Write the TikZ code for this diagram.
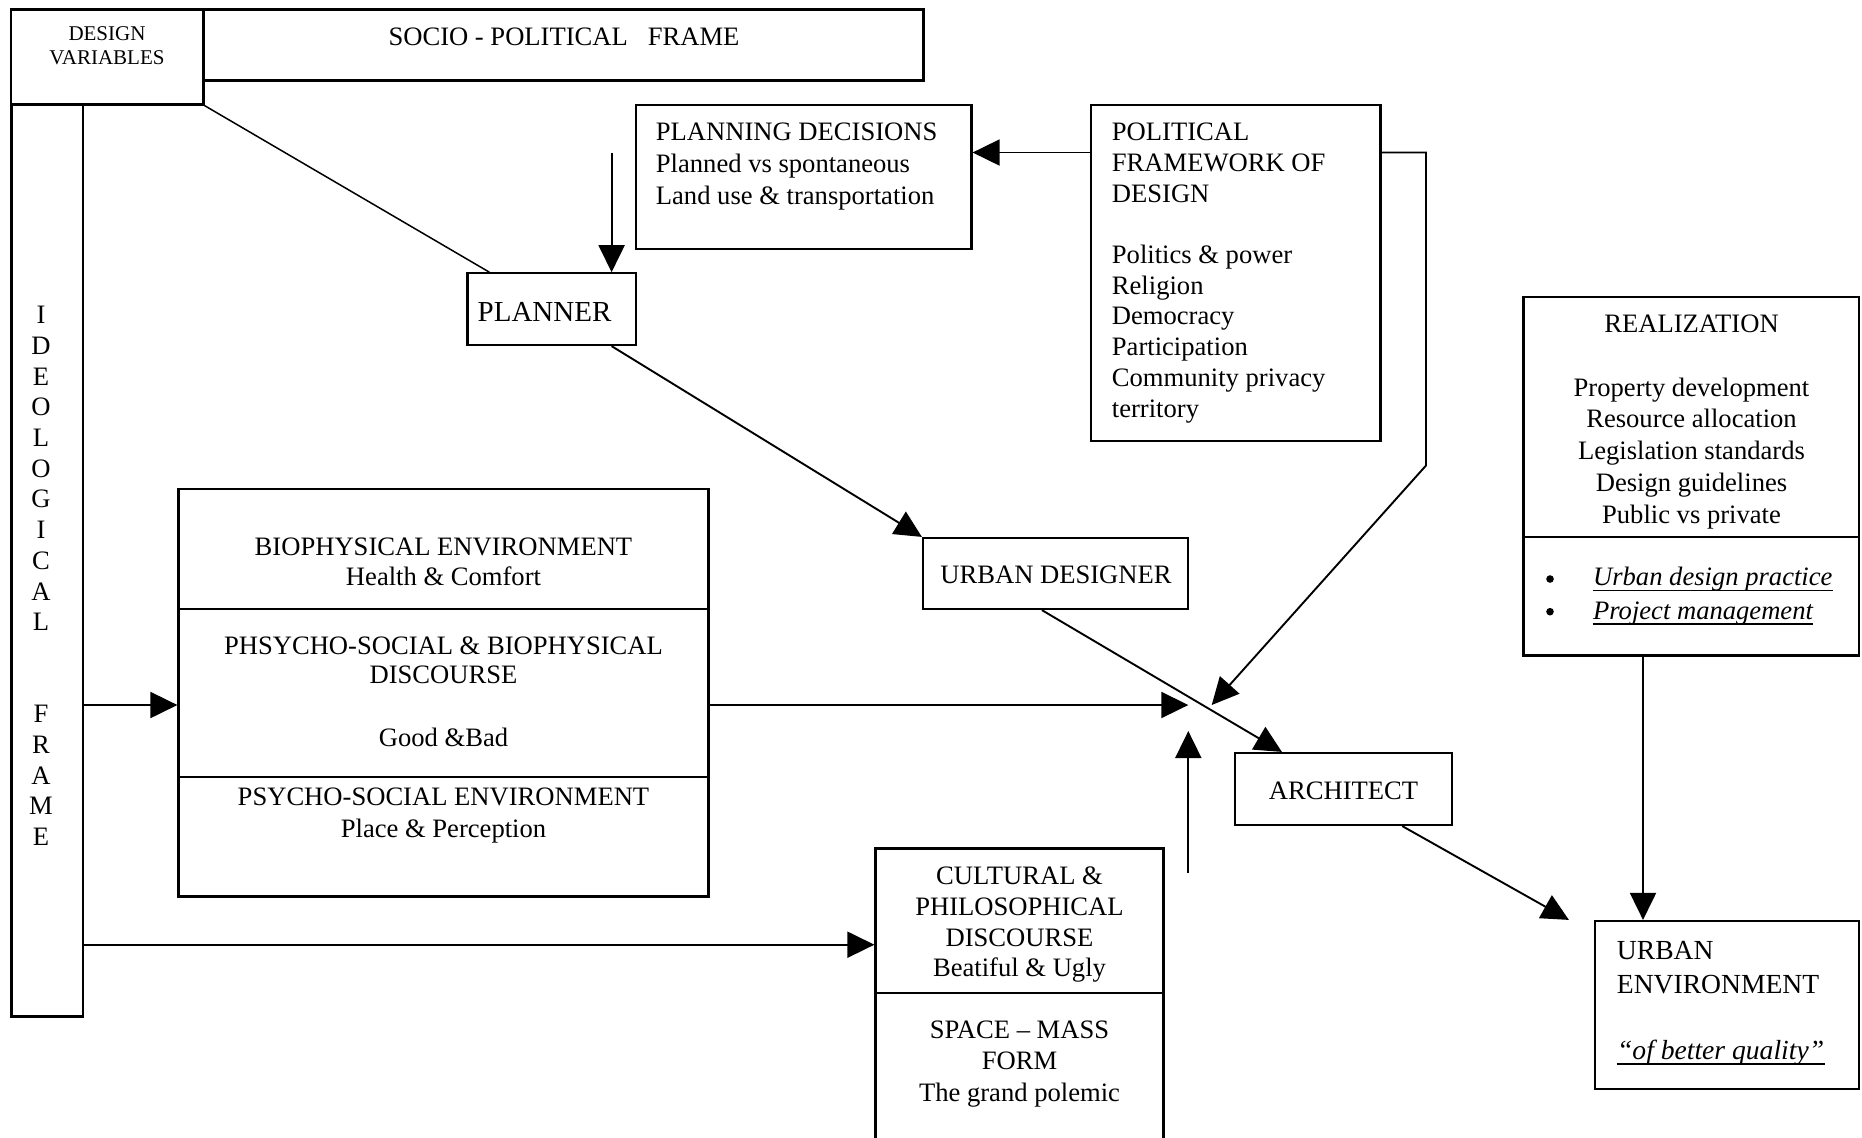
\documentclass[tikz,border=0pt]{standalone}
\usepackage{fontspec}
\setmainfont{Liberation Serif}
\usetikzlibrary{arrows.meta,fit}
\begin{document}
\begin{tikzpicture}[x=0.5pt,y=-0.5pt,
  box/.style={draw,line width=1.1pt,inner sep=0pt},
  lbl/.style={inner sep=0pt,font=\fontsize{13.3}{15.4}\selectfont},
  conn/.style={line width=0.95pt},
  thin/.style={line width=0.75pt},
  arr/.style={conn,-{Triangle[length=13.5pt,width=13pt]}},
  divider/.style={line width=1pt},
  uline/.style={line width=0.6pt}]
\useasboundingbox (0,0) rectangle (1862,1137);

% ---------- frames and boxes ----------
\node[box,fit={(11,9.5)(203.5,104.5)}] (dv) {};
\node[box,fit={(203.5,9.5)(923.5,80.5)}] (socio) {};
\node[box,fit={(11.5,104.5)(83,1016.5)}] (ideo) {};
\node[box,fit={(635.8,105)(971.5,249)}] (plan) {};
\node[box,fit={(1091,105)(1380.5,441)}] (polit) {};
\node[box,fit={(467.5,273.3)(636,345)}] (planner) {};
\node[box,fit={(923,538)(1188,609)}] (udes) {};
\node[box,fit={(1235,753)(1452,825)}] (arch) {};
\node[box,fit={(178.5,489)(708.5,896.5)}] (bio) {};
\node[box,fit={(875.5,848.5)(1163.5,1150)}] (cult) {};
\node[box,fit={(1523.5,297.3)(1859,655.5)}] (real) {};
\node[box,fit={(1595,921)(1859,1089)}] (uenv) {};

% dividers inside the stacked boxes
\coordinate (yb1) at (0,609.3);
\coordinate (yb2) at (0,777.3);
\coordinate (yc1) at (0,993);
\coordinate (yr1) at (0,536.7);
\draw[divider] (bio.west |- yb1) -- (bio.east |- yb1);
\draw[divider] (bio.west |- yb2) -- (bio.east |- yb2);
\draw[divider] (cult.west |- yc1) -- (cult.east |- yc1);
\draw[divider] (real.west |- yr1) -- (real.east |- yr1);

% ---------- texts ----------
\node[lbl,font=\fontsize{10.5}{12}\selectfont,align=center,anchor=north] (dvtxt) at (107,26) {DESIGN\\VARIABLES};
\node[lbl] (sociotxt) at (564,36.5) {SOCIO - POLITICAL\ \ \ FRAME};

\foreach \ch/\k in {I/0,D/1,E/2,O/3,L/4,O/5,G/6,I/7,C/8,A/9,L/10,F/13,R/14,A/15,M/16,E/17}
  \node[lbl] (ideo\k) at (41,{315+30.7*\k}) {\ch};

\node[lbl,font=\fontsize{13.3}{15.85}\selectfont,align=left,anchor=north west] (plantxt) at (655.5,122.7)
  {PLANNING DECISIONS\\Planned vs spontaneous\\Land use \& transportation};

\node[lbl,font=\fontsize{13.3}{15.35}\selectfont,align=left,anchor=north west] (polittxt) at (1111.5,122.7)
  {POLITICAL\\FRAMEWORK OF\\DESIGN\\[15.35pt]Politics \& power\\Religion\\Democracy\\Participation\\Community privacy\\territory};

\node[lbl,font=\fontsize{14.5}{16}\selectfont,anchor=west] (plannertxt) at (477.3,311.9) {PLANNER};
\node[lbl] (udestxt) at (1056,574.7) {URBAN DESIGNER};
\node[lbl] (archtxt) at (1343.5,790.5) {ARCHITECT};

\node[lbl,font=\fontsize{13.3}{15}\selectfont,align=center,anchor=north] (biotxt1) at (443.5,537.5)
  {BIOPHYSICAL ENVIRONMENT\\Health \& Comfort};
\node[lbl,font=\fontsize{13.3}{14.9}\selectfont,align=center,anchor=north] (biotxt2) at (443.5,635.9)
  {PHSYCHO-SOCIAL \& BIOPHYSICAL\\DISCOURSE\\[16.2pt]Good \&Bad};
\node[lbl,font=\fontsize{13.3}{16}\selectfont,align=center,anchor=north] (biotxt3) at (443.5,787.9)
  {PSYCHO-SOCIAL ENVIRONMENT\\Place \& Perception};

\node[lbl,font=\fontsize{13.3}{15.35}\selectfont,align=center,anchor=north] (culttxt1) at (1019.5,866.7)
  {CULTURAL \&\\PHILOSOPHICAL\\DISCOURSE\\Beatiful \& Ugly};
\node[lbl,font=\fontsize{13.3}{15.65}\selectfont,align=center,anchor=north] (culttxt2) at (1019.5,1020.5)
  {SPACE – MASS\\FORM\\The grand polemic};

\node[lbl,font=\fontsize{13.3}{15.95}\selectfont,align=center,anchor=north] (realtxt) at (1691.5,314.2)
  {REALIZATION\\[15.95pt]Property development\\Resource allocation\\Legislation standards\\Design guidelines\\Public vs private};
\node[circle,fill,inner sep=0pt,minimum size=3.8pt] (bul1) at (1550,579) {};
\node[circle,fill,inner sep=0pt,minimum size=3.8pt] (bul2) at (1550,611.7) {};
\node[lbl,anchor=base west] (item1) at (1592.7,585.5) {\itshape Urban design practice};
\node[lbl,anchor=base west] (item2) at (1592.7,619) {\itshape Project management};
\draw[uline] ([yshift=-2.5pt]item1.base west) -- ([yshift=-2.5pt]item1.base east);
\draw[uline] ([yshift=-2.5pt]item2.base west) -- ([yshift=-2.5pt]item2.base east);

\node[lbl,font=\fontsize{13.8}{17}\selectfont,align=left,anchor=north west] (uenvtxt) at (1616.5,940.5)
  {URBAN\\ENVIRONMENT};
\node[lbl,font=\fontsize{13.8}{17}\selectfont,anchor=base west] (qualtxt) at (1616.7,1059) {\itshape “of better quality”};
\draw[uline] ([yshift=-2.5pt]qualtxt.base west) -- ([yshift=-2.5pt]qualtxt.base east);

% ---------- connectors ----------
\coordinate (r152) at (0,152.5);
\coordinate (r705) at (0,705);
\coordinate (r944) at (0,944.7);
\coordinate (xreal) at (1643,0);
\coordinate (pdin) at (611.6,152.5);
\coordinate (bendpf) at (1426,465.5);
\coordinate (hubne) at (1211.7,705);
\coordinate (hubw) at (1188.3,705);
\coordinate (hubs) at (1188.3,731);
\coordinate (hubfoot) at (1188.3,873.3);

% design variables to planner
\draw[thin] (dv.south east) -- ([xshift=11.5pt]planner.north west);
% planning decisions feed the planner
\draw[arr] (pdin) -- (pdin |- planner.north);
% political framework to planning decisions
\draw[arr] (polit.west |- r152) -- (plan.east |- r152);
% political framework down to the architect's hub
\draw[arr] (polit.east |- r152) -| (bendpf) -- (hubne);
% planner to urban designer to architect to urban environment
\draw[arr] (pdin |- planner.south) -- (udes.north west);
\draw[arr] ([xshift=60pt]udes.south west) -- ([xshift=24pt]arch.north west);
\draw[arr] ([xshift=84.2pt]arch.south west) -- ([xshift=-12.5pt]uenv.north west);
% ideological frame to the discourse boxes
\draw[arr] (ideo.east |- r705) -- (bio.west |- r705);
\draw[arr] (ideo.east |- r944) -- (cult.west |- r944);
% discourses towards the architect
\draw[arr] (bio.east |- r705) -- (hubw);
\draw[arr] (hubfoot) -- (hubs);
% realization to urban environment
\draw[arr] (real.south -| xreal) -- (uenv.north -| xreal);
\end{tikzpicture}
\end{document}
